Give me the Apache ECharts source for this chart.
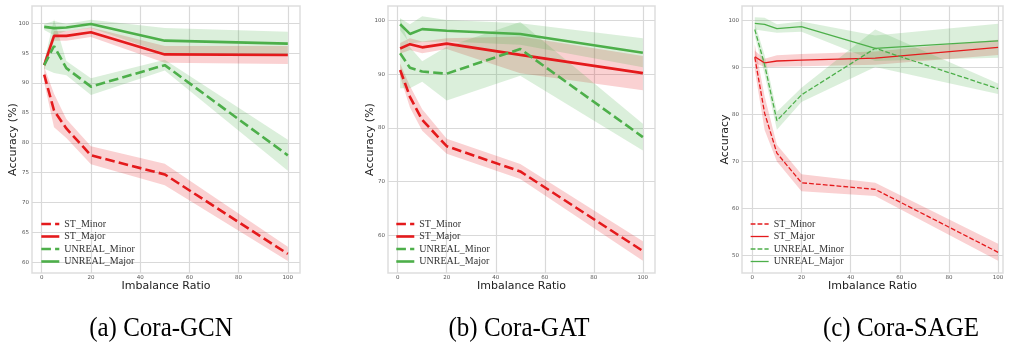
<!DOCTYPE html>
<html>
<head>
<meta charset="utf-8">
<script src="https://cdn.jsdelivr.net/npm/echarts@6/dist/echarts.min.js"></script>
<style>
  html, body { margin: 0; padding: 0; background: #fff; }
  #chart { width: 1010px; height: 343px; }
</style>
</head>
<body>
<div id="chart"></div>
<script>
const ratios = [1, 5, 10, 20, 50, 100];
const xTicks = [0, 20, 40, 60, 80, 100];

// (a) Cora-GCN
const gcnStMinor = [91.4, 85.4, 82.4, 77.9, 74.7, 61.4];
const gcnStMinorStd = [1.3, 2.8, 1.6, 1.5, 1.8, 1.2];
const gcnStMajor = [93.0, 97.9, 97.9, 98.5, 94.8, 94.7];
const gcnStMajorStd = [0.8, 0.8, 0.8, 0.8, 1.4, 1.5];
const gcnUnMinor = [93.0, 96.2, 92.5, 89.4, 93.0, 77.9];
const gcnUnMinorStd = [0.6, 4.5, 1.2, 1.4, 0.9, 2.6];
const gcnUnMajor = [99.4, 99.2, 99.3, 99.9, 97.1, 96.6];
const gcnUnMajorStd = [0.5, 1.2, 0.6, 0.7, 2.1, 2.0];
const gcnYTicks = [60, 65, 70, 75, 80, 85, 90, 95, 100];

// (b) Cora-GAT
const gatStMinor = [90.8, 85.8, 81.5, 76.6, 71.9, 57.1];
const gatStMinorStd = [1.2, 2.0, 2.0, 1.4, 1.4, 1.8];
const gatStMajor = [94.8, 95.6, 95.0, 95.7, 93.6, 90.2];
const gatStMajorStd = [1.0, 1.1, 1.1, 1.0, 3.4, 3.2];
const gatUnMinor = [93.9, 91.2, 90.5, 90.1, 94.7, 78.3];
const gatUnMinorStd = [6.5, 3.8, 1.9, 5.0, 5.0, 2.5];
const gatUnMajor = [99.3, 97.5, 98.4, 98.1, 97.5, 94.0];
const gatUnMajorStd = [1.1, 1.8, 2.4, 2.0, 2.0, 2.7];
const gatYTicks = [60, 70, 80, 90, 100];

// (c) Cora-SAGE
const sageStMinor = [92.1, 80.2, 71.7, 65.4, 64.0, 50.6];
const sageStMinorStd = [2.7, 3.6, 1.8, 1.8, 1.4, 1.8];
const sageStMajor = [92.2, 90.9, 91.3, 91.5, 91.9, 94.2];
const sageStMajorStd = [1.3, 0.9, 1.2, 1.3, 1.4, 1.6];
const sageUnMinor = [98.0, 90.5, 78.6, 84.1, 94.0, 85.4];
const sageUnMinorStd = [1.4, 2.0, 1.9, 1.5, 4.0, 1.1];
const sageUnMajor = [99.3, 99.1, 98.2, 98.6, 94.0, 95.6];
const sageUnMajorStd = [1.3, 1.4, 0.9, 1.1, 2.7, 3.6];
const sageYTicks = [50, 60, 70, 80, 90, 100];

const legendNames = ["ST_Minor", "ST_Major", "UNREAL_Minor", "UNREAL_Major"];
const captions = ["(a) Cora-GCN", "(b) Cora-GAT", "(c) Cora-SAGE"];

const RED = "#e41a1c";
const GREEN = "#4daf4a";
const RED_BAND = "rgba(228, 26, 28, 0.2)";
const GREEN_BAND = "rgba(77, 175, 74, 0.2)";

const panels = [
  {
    grid: { left: 32, top: 6, width: 268, height: 267 },
    x: [-3.95, 104.95], y: [58.2, 102.9], yTicks: gcnYTicks, yName: "Accuracy (%)", nameGap: 13,
    lw: 2.6, legendLeft: 40, caption: 161,
    lines: [[gcnStMinor, gcnStMinorStd], [gcnStMajor, gcnStMajorStd], [gcnUnMinor, gcnUnMinorStd], [gcnUnMajor, gcnUnMajorStd]]
  },
  {
    grid: { left: 388, top: 6, width: 267, height: 267 },
    x: [-3.95, 104.95], y: [53.0, 102.7], yTicks: gatYTicks, yName: "Accuracy (%)", nameGap: 12,
    lw: 2.6, legendLeft: 395, caption: 519,
    lines: [[gatStMinor, gatStMinorStd], [gatStMajor, gatStMajorStd], [gatUnMinor, gatUnMinorStd], [gatUnMajor, gatUnMajorStd]]
  },
  {
    grid: { left: 742, top: 6, width: 261, height: 267 },
    x: [-4.2, 102], y: [46.2, 103.0], yTicks: sageYTicks, yName: "Accuracy", nameGap: 11,
    lw: 1.3, legendLeft: 750, caption: 901,
    lines: [[sageStMinor, sageStMinorStd], [sageStMajor, sageStMajorStd], [sageUnMinor, sageUnMinorStd], [sageUnMajor, sageUnMajorStd]]
  }
];

const styles = [
  { color: RED, band: RED_BAND, dashed: true },
  { color: RED, band: RED_BAND, dashed: false },
  { color: GREEN, band: GREEN_BAND, dashed: true },
  { color: GREEN, band: GREEN_BAND, dashed: false }
];

// mean ± std band, drawn as one polygon through the axis scales
function bandSeries(pi, mean, std, color) {
  const rows = ratios.map((r, i) => [r, mean[i] - std[i], mean[i] + std[i]]);
  return {
    type: "custom", xAxisIndex: pi, yAxisIndex: pi, z: 1, silent: true,
    data: rows,
    encode: { x: 0, y: [1, 2] },
    renderItem: (params, api) => {
      if (params.dataIndex !== 0) return;
      const upper = rows.map(d => api.coord([d[0], d[2]]));
      const lower = rows.map(d => api.coord([d[0], d[1]])).reverse();
      return {
        type: "polygon",
        shape: { points: upper.concat(lower) },
        style: { fill: color, stroke: null }
      };
    }
  };
}

const grids = [], xAxes = [], yAxes = [], legends = [], series = [], graphics = [];

panels.forEach((p, pi) => {
  grids.push({ ...p.grid, show: true, borderColor: "#dedede", borderWidth: 1.5, backgroundColor: "#fff" });

  xAxes.push({
    gridIndex: pi, type: "value", min: p.x[0], max: p.x[1],
    name: "Imbalance Ratio", nameLocation: "middle", nameGap: 8, nameMoveOverlap: false,
    nameTextStyle: { fontFamily: "DejaVu Sans", fontSize: 11, color: "#222" },
    axisLine: { show: false },
    axisTick: { show: false, customValues: xTicks },
    axisLabel: { customValues: xTicks, fontSize: 5.5, color: "#555", margin: 2, fontFamily: "DejaVu Sans" },
    splitLine: { show: true, lineStyle: { color: "#d9d9d9", width: 1.2 } }
  });

  yAxes.push({
    gridIndex: pi, type: "value", min: p.y[0], max: p.y[1],
    name: p.yName, nameLocation: "middle", nameRotate: 90, nameGap: p.nameGap, nameMoveOverlap: false,
    nameTextStyle: { fontFamily: "DejaVu Sans", fontSize: 11, color: "#222" },
    axisLine: { show: false },
    axisTick: { show: false, customValues: p.yTicks },
    axisLabel: { customValues: p.yTicks, fontSize: 5.5, color: "#555", margin: 3, fontFamily: "DejaVu Sans" },
    splitLine: { show: true, lineStyle: { color: "#d9d9d9", width: 1.2 } }
  });

  const dashLen = [p.lw * 3.7, p.lw * 1.6];

  p.lines.forEach(([mean, std], si) => {
    series.push(bandSeries(pi, mean, std, styles[si].band));
  });

  p.lines.forEach(([mean], si) => {
    const st = styles[si];
    series.push({
      name: legendNames[si], type: "line", xAxisIndex: pi, yAxisIndex: pi, z: 3,
      symbol: "none",
      lineStyle: { color: st.color, width: p.lw, type: st.dashed ? dashLen : "solid" },
      itemStyle: { color: st.color },
      data: ratios.map((r, i) => [r, mean[i]])
    });
  });

  legends.push({
    orient: "vertical", left: p.legendLeft, top: 218,
    itemWidth: 18, itemHeight: 12, itemGap: 0.5, padding: 0,
    selectedMode: false,
    textStyle: { fontFamily: "Liberation Serif", fontSize: 10, color: "#333", lineHeight: 12 },
    data: legendNames.map((n, si) => ({
      name: n,
      itemStyle: { opacity: 0 },
      lineStyle: { color: styles[si].color, width: p.lw, type: styles[si].dashed ? dashLen : "solid" }
    }))
  });

  graphics.push({
    type: "text", x: p.caption, y: 329, scaleY: 1.1,
    style: {
      text: captions[pi], font: '25px "Liberation Serif"', fill: "#000",
      align: "center", verticalAlign: "middle"
    }
  });
});

const chart = echarts.init(document.getElementById("chart"));
chart.setOption({
  animation: false,
  backgroundColor: "#fff",
  grid: grids,
  xAxis: xAxes,
  yAxis: yAxes,
  legend: legends,
  series: series,
  graphic: graphics
});
</script>
</body>
</html>
